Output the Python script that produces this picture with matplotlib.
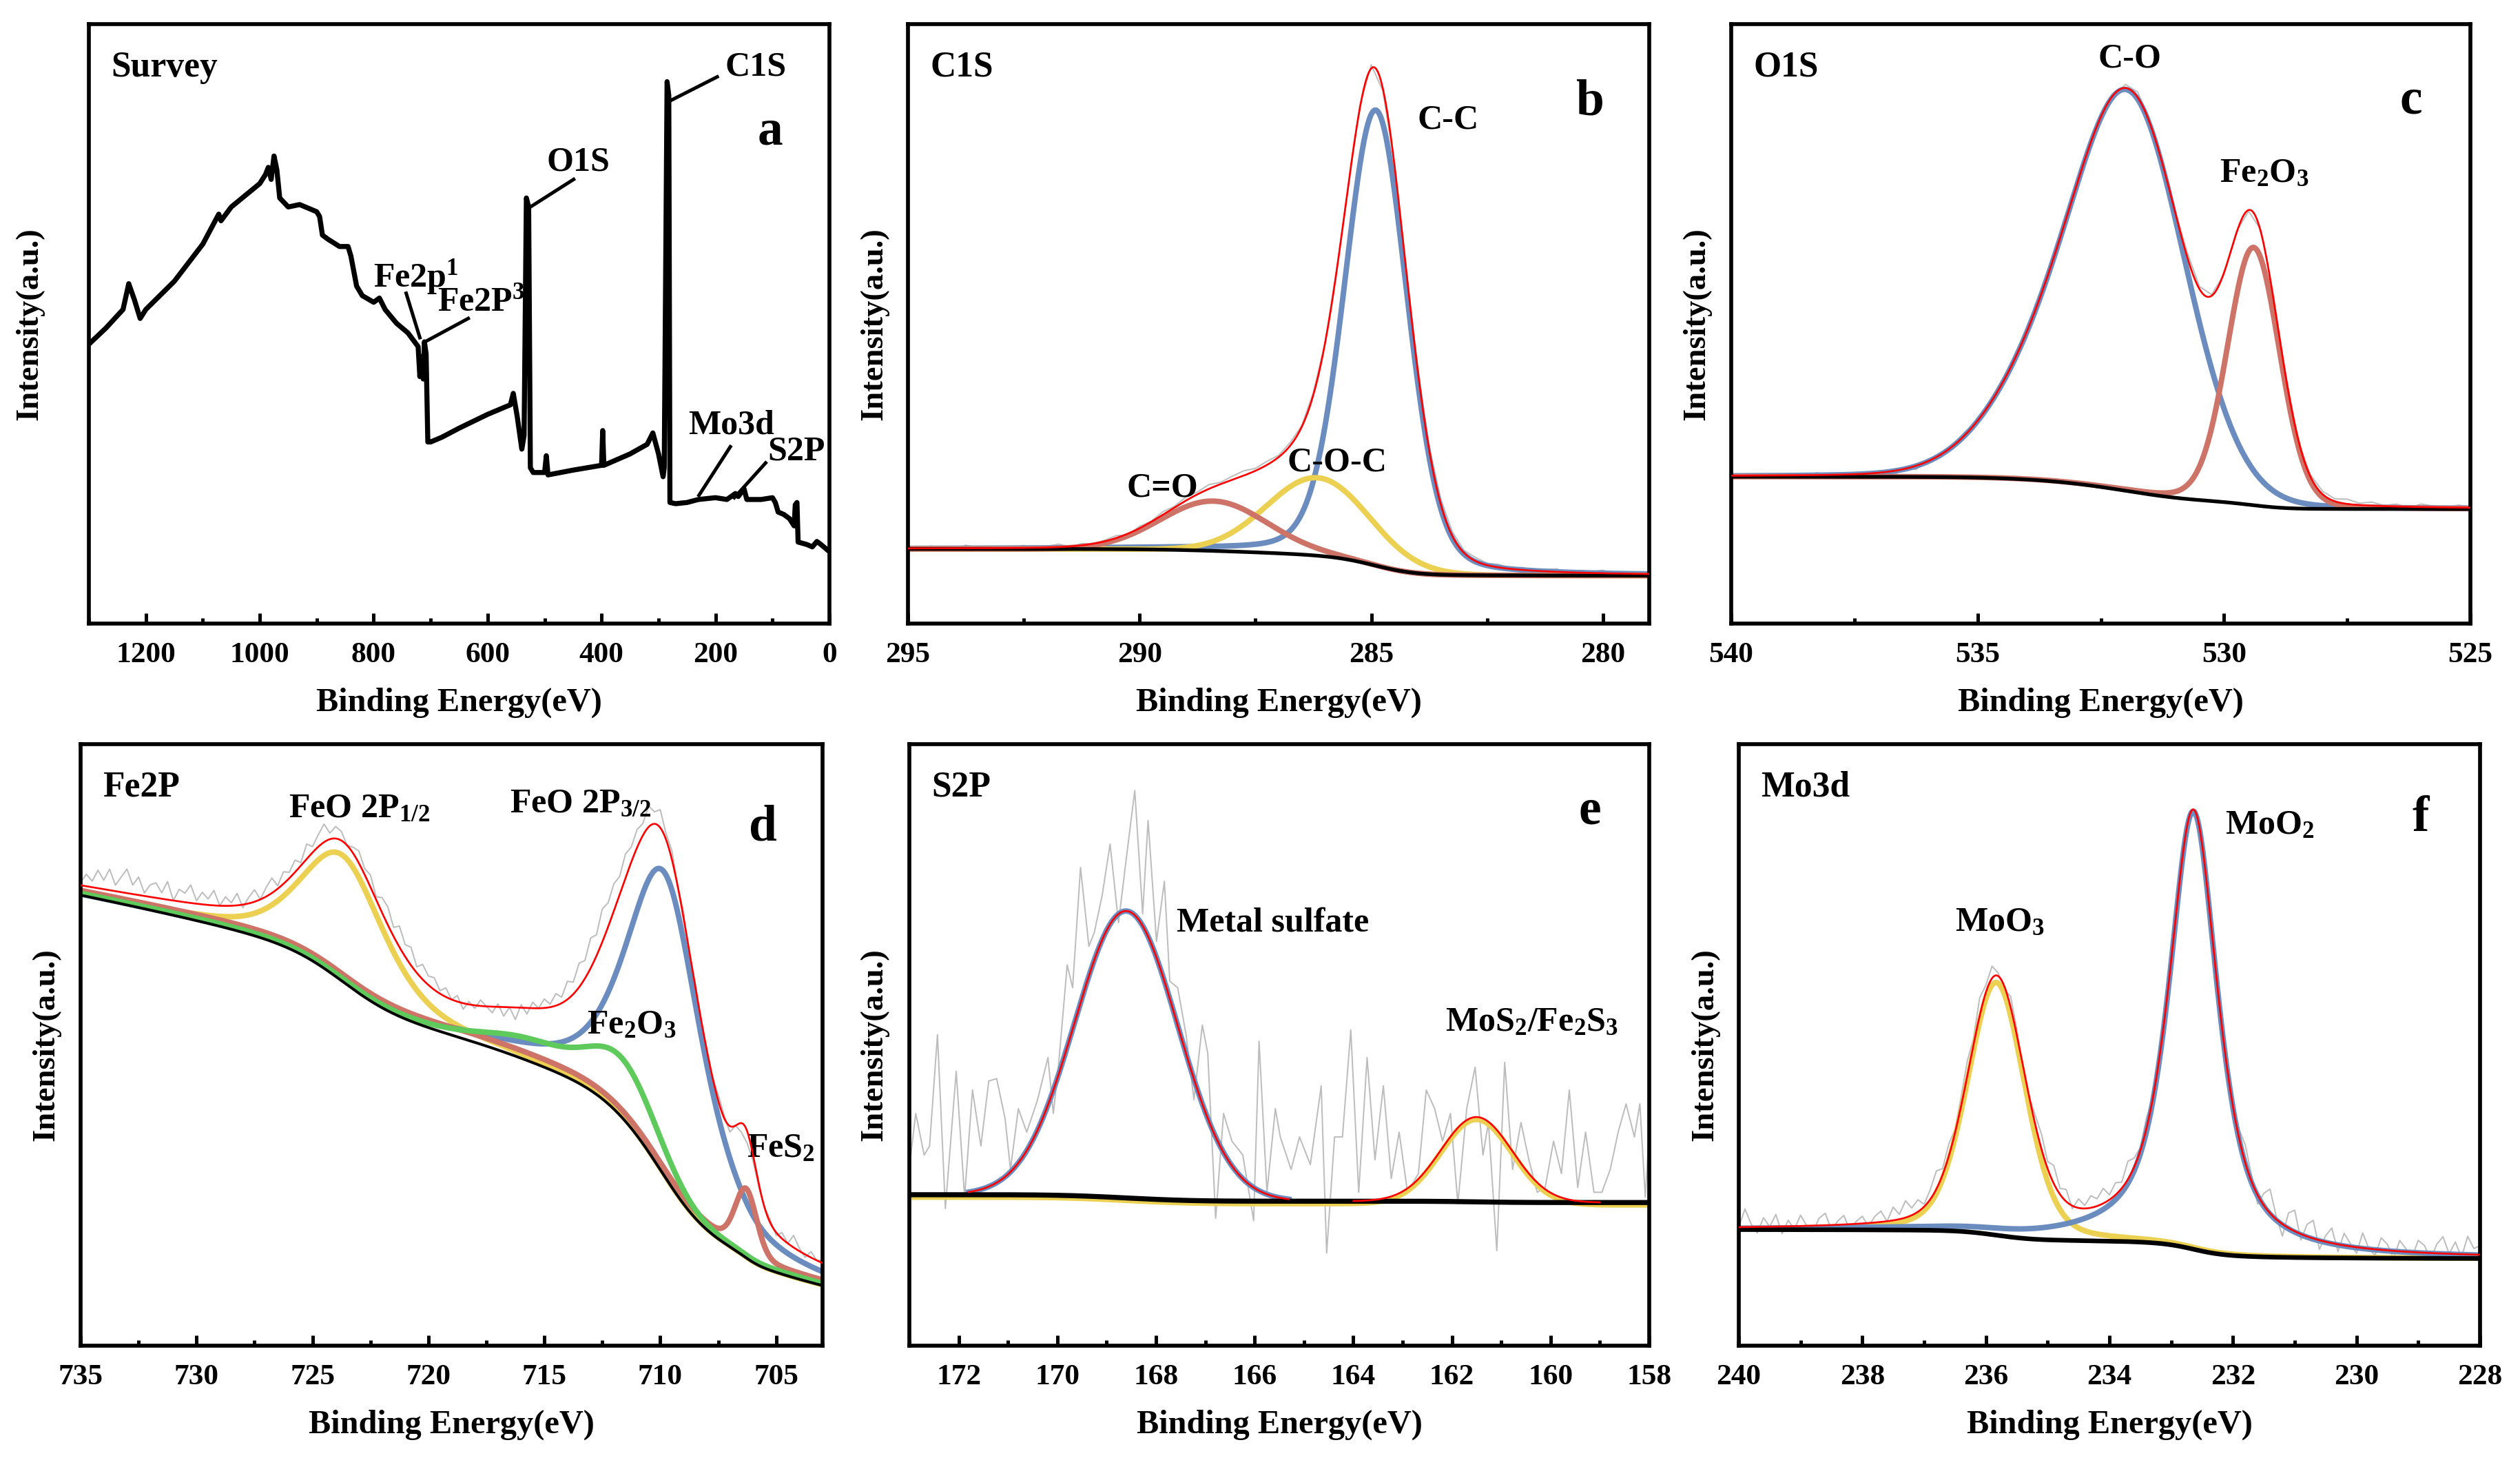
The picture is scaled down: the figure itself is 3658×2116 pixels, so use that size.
import numpy as np
import matplotlib
matplotlib.use('Agg')
import matplotlib.pyplot as plt
from matplotlib.ticker import MultipleLocator

plt.rcParams['font.family'] = 'Liberation Serif'
plt.rcParams['font.weight'] = 'bold'
plt.rcParams['mathtext.fontset'] = 'custom'
plt.rcParams['mathtext.rm'] = 'Liberation Serif:bold'
plt.rcParams['mathtext.it'] = 'Liberation Serif:bold'
plt.rcParams['mathtext.bf'] = 'Liberation Serif:bold'
plt.rcParams['mathtext.default'] = 'rm'

# ---------------- data (intensity in a.u., 0..1 of axes) ----------------
# (a) survey spectrum
survey_be = [1300, 1270, 1240, 1230, 1220, 1210, 1200, 1150, 1100, 1072, 1068, 1050, 1000, 990, 985,
             980, 975, 970, 965, 950, 930, 910, 900, 895, 890, 880, 860, 845, 840, 830, 820, 800, 790,
             780, 760, 740, 722, 719, 716, 713, 711, 708, 705, 700, 680, 650, 600, 580, 560, 555, 548,
             540, 536, 532, 528, 525, 520, 500, 497, 494, 450, 400, 398, 396, 350, 320, 310, 300, 292,
             290, 285, 282, 280, 270, 250, 230, 200, 180, 165, 160, 150, 145, 120, 100, 95, 90, 80, 70,
             62, 60, 57, 55, 40, 30, 22, 15, 5, 0]
survey_int = [.466, .493, .524, .567, .540, .509, .524, .571, .633, .683, .672, .695, .734, .749, .761,
              .741, .780, .757, .710, .695, .699, .691, .687, .679, .648, .641, .629, .629, .613, .563,
              .547, .536, .543, .524, .501, .485, .462, .412, .445, .408, .470, .450, .303, .303, .311,
              .326, .349, .357, .365, .384, .345, .291, .314, .710, .695, .260, .252, .252, .280, .248,
              .256, .264, .322, .264, .283, .299, .318, .283, .245, .260, .904, .881, .202, .200, .202,
              .207, .210, .207, .217, .212, .225, .207, .207, .210, .202, .186, .182, .175, .163, .198,
              .202, .136, .132, .128, .137, .132, .124, .120]
survey_labels = ['C1S', 'O1S', 'Fe2p$^1$', 'Fe2P$^3$', 'Mo3d', 'S2P']
survey_label_xy = [(183, 0.928), (496, 0.769), (800, 0.578), (688, 0.536), (248, 0.330), (109, 0.287)]
survey_leader = [((284, 0.870), (197, 0.912)), ((525, 0.695), (449, 0.741)),
                 ((743, 0.551), (719, 0.477)), ((634, 0.509), (710, 0.470)),
                 ((174, 0.295), (229, 0.214)), ((112, 0.268), (167, 0.210))]

# fitted peaks: (centre eV, height, FWHM, lorentz fraction)
# (b) C1s
c1s_cc = [(284.9, 0.76, 1.6, 0.2)]
c1s_coc = [(286.15, 0.13, 2.6, 0.0)]
c1s_co = [(288.4, 0.083, 2.7, 0.0)]
c1s_bg = (0.080, 0.1245)
c1s_resid = [0.002, -0.003, 0.004, 0.0, -0.002, 0.005, 0.001, -0.003, 0.003, 0.0, 0.004, -0.002, 0.002,
             0.005, -0.001, 0.003, 0.0, 0.002, 0.004, -0.002, 0.003, 0.001, 0.005, 0.002, 0.006, 0.004,
             0.007, 0.003, 0.006, 0.008, 0.004, 0.006, 0.003, 0.005, 0.002, 0.004, 0.0, 0.003, -0.003,
             0.005, 0.006, -0.004, 0.002, 0.004, 0.003, 0.006, 0.009, 0.007, 0.004, 0.006, 0.003, 0.005,
             0.001, 0.004, 0.0, 0.003, 0.005, -0.001, 0.004, 0.002, 0.005, 0.0, 0.003, 0.001, 0.004]

# (c) O1s
o1s_co = [(531.85, 0.61, 2.6, 0.05), (533.6, 0.16, 2.8, 0.1)]
o1s_fe2o3 = [(529.4, 0.43, 1.25, 0.1)]
o1s_bg = (0.191, 0.245)
o1s_resid = [0.004, -0.003, 0.002, -0.004, 0.003, -0.002, 0.0, 0.004, -0.003, 0.001, -0.005, 0.002, -0.004,
             -0.008, 0.0, -0.006, 0.003, -0.005, 0.002, 0.005, -0.003, 0.004, 0.006, -0.002, 0.003,
             0.006, 0.002, -0.004, 0.005, -0.006, 0.002, -0.005, 0.006, 0.009, 0.004, 0.007, 0.003,
             0.008, 0.004, 0.002, -0.003, 0.003, -0.002, 0.004, 0.006, 0.002, -0.003, 0.003, 0.005,
             0.004, 0.008, 0.003, 0.006, 0.001, 0.004, -0.002, 0.005, 0.002, -0.001, 0.004, 0.002]

# (d) Fe2p
fe_feo_half = [(723.7, 0.21, 4.3, 0.5)]
fe_feo_3half = [(709.8, 0.505, 3.9, 0.6)]
fe_fe2o3 = [(711.6, 0.09, 3.4, 0.1), (715.5, 0.03, 4.5, 0.0), (718.0, 0.005, 40.0, 0.0)]
fe_fes2 = [(706.3, 0.105, 1.1, 0.2), (718.0, 0.013, 40.0, 0.0)]
fe_bg = (0.100, 0.749)
fe_bg_slope = 0.0065
fe_resid = [0.005, 0.02, 0.01, 0.03, 0.015, 0.035, 0.01, 0.025, 0.04, 0.015, 0.03, 0.005, 0.02,
            0.025, 0.01, 0.03, 0.0, 0.02, 0.015, 0.03, 0.005, 0.02, 0.01, 0.025, 0.0,
            0.015, 0.005, 0.02, -0.005, 0.01, 0.02, 0.0, 0.015, 0.025, 0.005, 0.02, 0.01,
            0.02, 0.005, 0.025, 0.01, 0.02, 0.03, 0.01, 0.02, 0.015, 0.0, 0.01, 0.02,
            0.01, 0.02, 0.005, 0.025, 0.03, 0.015, 0.035, 0.02, 0.03, 0.01, 0.025, 0.015,
            0.02, 0.005, 0.015, 0.0, 0.01, -0.01, 0.005, -0.005, 0.01, 0.0, -0.01, 0.005,
            -0.015, 0.0, -0.02, 0.005, -0.01, 0.01, 0.0, 0.015, 0.005, 0.02, 0.01, 0.03,
            0.02, 0.04, 0.03, 0.05, 0.035, 0.055, 0.04, 0.045, 0.03, 0.04, 0.025, 0.03,
            0.02, 0.035, 0.02, 0.03, 0.01, 0.015, 0.0, 0.01, -0.005, 0.005, 0.0, -0.01,
            0.0, 0.01, 0.005, -0.01, 0.0, -0.015, -0.02, -0.01, -0.005, 0.0, 0.005, -0.005,
            0.01, 0.0, 0.02, 0.005, -0.005, 0.01, 0.0, 0.005]

# (e) S2p
s_sulfate = [(168.6, 0.477, 2.46, 0.0)]
s_mos2 = [(161.5, 0.141, 1.7, 0.0)]
s_bg = (0.238, 0.251)
s_raw_be = [173.00, 172.87, 172.70, 172.59, 172.43, 172.27, 172.05, 171.88, 171.72, 171.55, 171.39,
            171.23, 171.06, 170.95, 170.79, 170.62, 170.40, 170.19, 170.08, 169.97, 169.80, 169.69,
            169.53, 169.36, 169.25, 169.09, 168.93, 168.76, 168.60, 168.43, 168.27, 168.16, 167.99,
            167.83, 167.72, 167.56, 167.39, 167.23, 167.06, 166.95, 166.79, 166.63, 166.46, 166.24,
            166.02, 165.91, 165.75, 165.58, 165.48, 165.26, 165.09, 164.87, 164.65, 164.54, 164.38,
            164.22, 164.05, 163.89, 163.72, 163.56, 163.39, 163.23, 163.07, 162.90, 162.68, 162.52,
            162.35, 162.19, 162.03, 161.88, 161.70, 161.53, 161.37, 161.26, 161.09, 160.93, 160.77,
            160.60, 160.44, 160.27, 160.11, 159.94, 159.78, 159.62, 159.45, 159.29, 159.12, 158.96,
            158.79, 158.63, 158.47, 158.30, 158.19, 158.08, 158.00]
s_raw_int = [0.297, 0.386, 0.317, 0.332, 0.517, 0.228, 0.456, 0.247, 0.425, 0.332, 0.440, 0.444, 0.378,
             0.293, 0.394, 0.355, 0.409, 0.479, 0.386, 0.471, 0.633, 0.595, 0.795, 0.664, 0.687, 0.749,
             0.834, 0.703, 0.811, 0.923, 0.718, 0.873, 0.672, 0.772, 0.606, 0.595, 0.517, 0.409, 0.533,
             0.486, 0.212, 0.386, 0.340, 0.317, 0.208, 0.506, 0.255, 0.394, 0.347, 0.293, 0.347, 0.301,
             0.432, 0.154, 0.347, 0.347, 0.525, 0.255, 0.479, 0.309, 0.432, 0.278, 0.355, 0.255, 0.286,
             0.425, 0.394, 0.340, 0.386, 0.236, 0.394, 0.463, 0.317, 0.371, 0.158, 0.471, 0.293, 0.371,
             0.309, 0.255, 0.263, 0.340, 0.286, 0.425, 0.263, 0.355, 0.255, 0.255, 0.293, 0.355, 0.402,
             0.347, 0.402, 0.247, 0.355]

# (f) Mo3d
mo_moo3 = [(235.83, 0.42, 1.1, 0.25)]
mo_moo2 = [(232.64, 0.728, 0.95, 0.75)]
mo_bg = (0.145, 0.193)
mo_resid = [0.0, 0.03, 0.005, -0.01, 0.015, 0.0, 0.02, -0.012, 0.01, -0.005, 0.018, 0.0, -0.01, 0.012,
            0.02, -0.008, 0.006, 0.015, -0.01, 0.004, 0.012,
            -0.006, 0.01, 0.018, 0.0, 0.022, 0.008, 0.028, 0.012, 0.02, 0.004, 0.016, 0.03, 0.01, 0.02,
            0.006, 0.015, 0.025, 0.01, 0.03, 0.012,
            0.02, 0.005, -0.005, 0.018, 0.01, -0.008, 0.0, 0.015, 0.025, 0.012, 0.03, 0.01, 0.02, -0.005,
            0.015, 0.005, 0.02, 0.012, 0.025, 0.008,
            0.02, 0.01, 0.03, 0.015, 0.005, 0.018, 0.0, 0.01, -0.005, 0.012, 0.02, 0.008, -0.01, 0.005,
            0.015, 0.0, -0.012, 0.005, 0.018, -0.008,
            0.015, 0.03, 0.01, -0.015, 0.02, 0.04, 0.005, -0.02, 0.025, 0.035, -0.01, 0.02, 0.03, -0.015,
            0.01, 0.025, -0.012, 0.02, 0.005, -0.01,
            0.025, 0.0, -0.01, 0.02, 0.01, -0.012, 0.018, 0.005, -0.008, 0.02, 0.012, -0.01, 0.015, 0.028,
            0.0, 0.02, -0.005, 0.03, 0.01, 0.015]

BLUE = '#6a8cbf'
BROWN = '#cd7367'
YELLOW = '#ebd051'
GREEN = '#5dca5b'
RED = '#ff0000'
GRAY = '#bdbdbd'


def pv(x, peaks):
    out = np.zeros_like(x)
    for c, h, w, m in peaks:
        t = ((x - c) / w) ** 2
        out += h * ((1 - m) * np.exp(-4 * np.log(2) * t) + m / (1 + 4 * t))
    return out


def shirley(x, total, low, high, slope=0.0):
    # Shirley-type background: step proportional to the peak area on the low-BE side
    idx = np.argsort(x)
    xs, ys = x[idx], total[idx]
    cum = np.concatenate([[0.0], np.cumsum(0.5 * (ys[1:] + ys[:-1]) * np.diff(xs))])
    frac = cum / cum[-1]
    span = xs[-1] - xs[0]
    b = low + slope * (xs - xs[0]) + (high - low - slope * span) * frac
    bg = np.empty_like(b)
    bg[idx] = b
    return bg


def model(x, comps, bg_levels, slope=0.0):
    parts = [pv(x, p) for p in comps]
    bg = shirley(x, np.sum(parts, axis=0), bg_levels[0], bg_levels[1], slope)
    return bg, parts


W, H = 3658, 2116
fig = plt.figure(figsize=(W / 240, H / 240), dpi=240)


def make_axes(l, t, r, b):
    return fig.add_axes([l / W, 1 - b / H, (r - l) / W, (b - t) / H])


def style(ax, xlim, major, ylab_x, title, letter, letter_y):
    ax.set_xlim(*xlim)
    ax.set_ylim(0, 1)
    ax.set_yticks([])
    ax.xaxis.set_major_locator(MultipleLocator(major))
    ax.xaxis.set_minor_locator(MultipleLocator(major / 2))
    ax.tick_params(axis='x', which='major', direction='in', length=4.5, width=1.5,
                   labelsize=13, pad=8)
    ax.tick_params(axis='x', which='minor', direction='in', length=2.3, width=1.5)
    for lab in ax.get_xticklabels():
        lab.set_fontweight('bold')
    for s in ax.spines.values():
        s.set_linewidth(1.7)
    ax.set_xlabel('Binding Energy(eV)', fontsize=14.5, fontweight='bold')
    ax.xaxis.set_label_coords(0.5, -0.106)
    ax.set_ylabel('Intensity(a.u.)', fontsize=14, fontweight='bold')
    ax.yaxis.set_label_coords(ylab_x, 0.5)
    ax.text(0.03, 0.928, title, transform=ax.transAxes, fontsize=15.5, fontweight='bold',
            ha='left', va='center')
    ax.text(0.92, letter_y, letter, transform=ax.transAxes, fontsize=22, fontweight='bold',
            ha='center', va='center')


def draw_fit(ax, xlim, comps, colors, bg_levels, resid, slope=0.0, bg_lw=1.6):
    x = np.linspace(xlim[0], xlim[1], 1600)
    bg, parts = model(x, comps, bg_levels, slope)
    xr = np.linspace(xlim[0], xlim[1], len(resid))
    bgr, partsr = model(xr, comps, bg_levels, slope)
    ax.plot(xr, bgr + np.sum(partsr, axis=0) + np.array(resid), color=GRAY, lw=0.6, zorder=1)
    for p, col in zip(parts, colors):
        ax.plot(x, bg + p, color=col, lw=2.4, zorder=2, solid_capstyle='round')
    ax.plot(x, bg, color='k', lw=bg_lw, zorder=3)
    ax.plot(x, bg + np.sum(parts, axis=0), color=RED, lw=0.8, zorder=4)


# ---------------- (a) survey ----------------
ax = make_axes(129, 35, 1204, 905)
ax.plot(survey_be, survey_int, color='k', lw=2.2)
for (p1, p2) in survey_leader:
    ax.plot([p1[0], p2[0]], [p1[1], p2[1]], color='k', lw=1.5)
for lab, (tx, ty) in zip(survey_labels, survey_label_xy):
    ax.text(tx, ty, lab, fontsize=15, fontweight='bold', ha='left', va='center')
style(ax, (1300, 0), 200, -0.06, 'Survey', 'a', 0.82)

# ---------------- (b) C1s ----------------
ax = make_axes(1318, 35, 2394, 905)
draw_fit(ax, (295, 279), [c1s_cc, c1s_coc, c1s_co], [BLUE, YELLOW, BROWN], c1s_bg, c1s_resid)
ax.text(0.687, 0.84, 'C-C', transform=ax.transAxes, fontsize=15, ha='left', va='center')
ax.text(0.512, 0.268, 'C-O-C', transform=ax.transAxes, fontsize=15, ha='left', va='center')
ax.text(0.295, 0.226, 'C=O', transform=ax.transAxes, fontsize=15, ha='left', va='center')
style(ax, (295, 279), 5, -0.026, 'C1S', 'b', 0.87)

# ---------------- (c) O1s ----------------
ax = make_axes(2513, 35, 3586, 905)
draw_fit(ax, (540, 525), [o1s_co, o1s_fe2o3], [BLUE, BROWN], o1s_bg, o1s_resid)
ax.text(0.539, 0.942, 'C-O', transform=ax.transAxes, fontsize=15, ha='center', va='center')
ax.text(0.661, 0.751, 'Fe$_2$O$_3$', transform=ax.transAxes, fontsize=15, ha='left', va='center')
style(ax, (540, 525), 5, -0.027, 'O1S', 'c', 0.872)

# ---------------- (d) Fe2p ----------------
ax = make_axes(117, 1080, 1194, 1953)
draw_fit(ax, (735, 703), [fe_feo_half, fe_feo_3half, fe_fes2, fe_fe2o3],
         [YELLOW, BLUE, BROWN, GREEN], fe_bg, fe_resid, slope=fe_bg_slope, bg_lw=1.2)
ax.text(0.28, 0.892, 'FeO 2P$_{1/2}$', transform=ax.transAxes, fontsize=15, ha='left', va='center')
ax.text(0.578, 0.90, 'FeO 2P$_{3/2}$', transform=ax.transAxes, fontsize=15, ha='left', va='center')
ax.text(0.682, 0.533, 'Fe$_2$O$_3$', transform=ax.transAxes, fontsize=15, ha='left', va='center')
ax.text(0.898, 0.328, 'FeS$_2$', transform=ax.transAxes, fontsize=15, ha='left', va='center')
style(ax, (735, 703), 5, -0.027, 'Fe2P', 'd', 0.861)

# ---------------- (e) S2p ----------------
ax = make_axes(1320, 1080, 2394, 1953)
xe = np.linspace(173, 158, 1600)
bg_e, (p_sul, p_mos) = model(xe, [s_sulfate, s_mos2], s_bg)
ax.plot(s_raw_be, s_raw_int, color=GRAY, lw=0.6, zorder=1)
ax.plot(xe, bg_e + p_mos - 0.004, color=YELLOW, lw=2.4, zorder=2)
win = (xe <= 171.8) & (xe >= 165.3)
ax.plot(xe[win], (bg_e + p_sul)[win], color=BLUE, lw=2.4, zorder=2)
ax.plot(xe, bg_e, color='k', lw=2.2, zorder=3)
ax.plot(xe[win], (bg_e + p_sul)[win], color=RED, lw=0.8, zorder=4)
pk = (xe <= 164.0) & (xe >= 159.0)
ax.plot(xe[pk], (bg_e + p_mos)[pk], color=RED, lw=0.8, zorder=4)
ax.text(0.361, 0.703, 'Metal sulfate', transform=ax.transAxes, fontsize=15, ha='left', va='center')
ax.text(0.724, 0.537, 'MoS$_2$/Fe$_2$S$_3$', transform=ax.transAxes, fontsize=15, ha='left', va='center')
style(ax, (173, 158), 2, -0.028, 'S2P', 'e', 0.888)

# ---------------- (f) Mo3d ----------------
ax = make_axes(2524, 1080, 3600, 1953)
draw_fit(ax, (240, 228), [mo_moo3, mo_moo2], [YELLOW, BLUE], mo_bg, mo_resid, bg_lw=2.0)
ax.text(0.656, 0.865, 'MoO$_2$', transform=ax.transAxes, fontsize=15, ha='left', va='center')
ax.text(0.292, 0.703, 'MoO$_3$', transform=ax.transAxes, fontsize=15, ha='left', va='center')
style(ax, (240, 228), 2, -0.026, 'Mo3d', 'f', 0.876)

fig.savefig('out.png', dpi=240)
